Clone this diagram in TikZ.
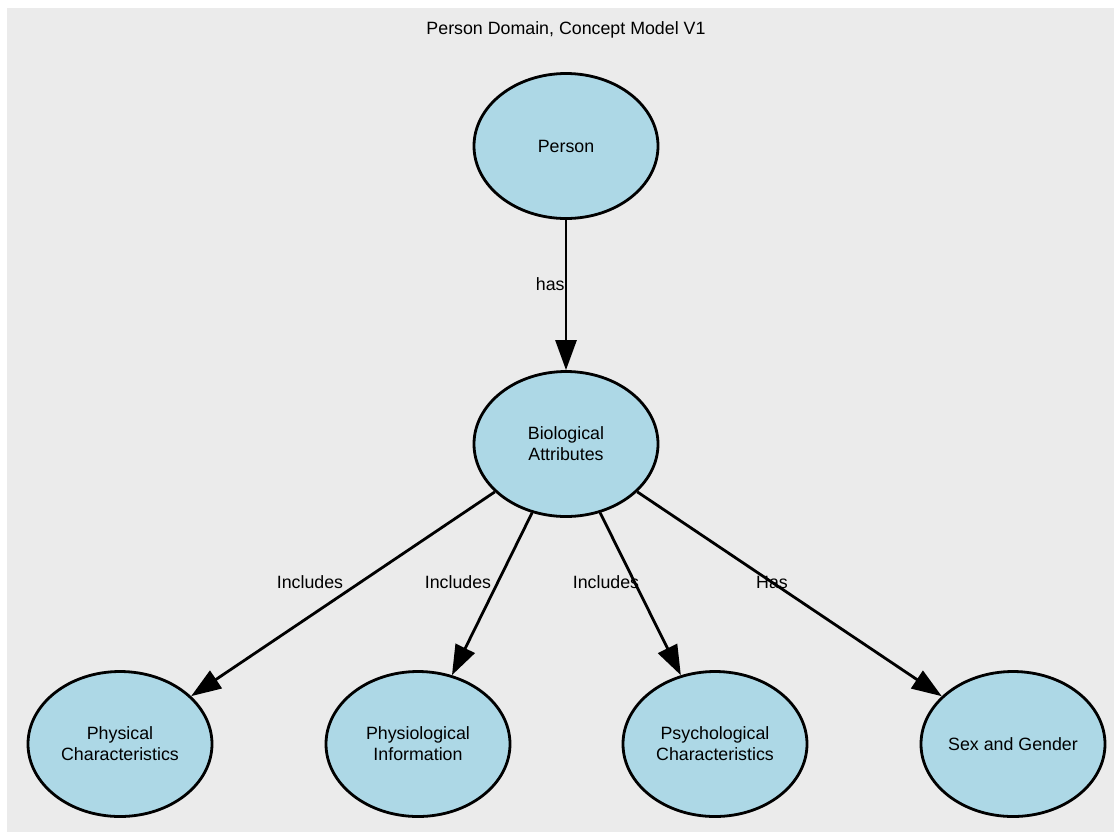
\documentclass[tikz,border=0pt]{standalone}
\usepackage{fontspec}
\setmainfont{Liberation Sans}
\usetikzlibrary{shapes.geometric, arrows.meta}
\definecolor{bgray}{HTML}{EBEBEB}
\definecolor{lblue}{HTML}{ADD8E6}
\tikzstyle{concept} = [ellipse, minimum width=92pt, minimum height=72.5pt, inner sep=0pt, align=center, draw=black, line width=1.4pt, fill=lblue, font=\fontsize{8.9}{10.5}\selectfont]
\tikzstyle{elabel} = [font=\fontsize{8.9}{10.5}\selectfont, inner sep=0pt]
\tikzstyle{arrow} = [line width=1.4pt, -{Triangle[length=15pt, width=10.5pt]}]

\begin{document}
\begin{tikzpicture}[node distance=149pt]
\useasboundingbox (0pt,0pt) rectangle (557pt,-416pt);
\fill[bgray] (3.5pt,-4pt) rectangle (557pt,-416pt);
\node (title) [elabel] at (283pt,-15pt) {Person Domain, Concept Model V1};
\node (person) [concept] at (283pt,-73pt) {Person};
\node (bio) [concept, below of=person] {Biological\\Attributes};
\node (physio) [concept, below of=bio, xshift=-74pt, yshift=-1pt] {Physiological\\Information};
\node (phys) [concept, left of=physio] {Physical\\Characteristics};
\node (psych) [concept, below of=bio, xshift=74.5pt, yshift=-1pt] {Psychological\\Characteristics};
\node (sex) [concept, right of=psych] {Sex and Gender};
\draw [arrow] (person) -- node [elabel, pos=0.43, anchor=east] {has} (bio);
\draw [arrow] (bio) -- (phys);
\draw [arrow] (bio) -- (physio);
\draw [arrow] (bio) -- (psych);
\draw [arrow] (bio) -- (sex);
\node (lphys) [elabel] at (155pt,-291pt) {Includes};
\node (lphysio) [elabel] at (229pt,-291pt) {Includes};
\node (lpsych) [elabel] at (303pt,-291pt) {Includes};
\node (lsex) [elabel] at (386pt,-291pt) {Has};
\end{tikzpicture}
\end{document}
